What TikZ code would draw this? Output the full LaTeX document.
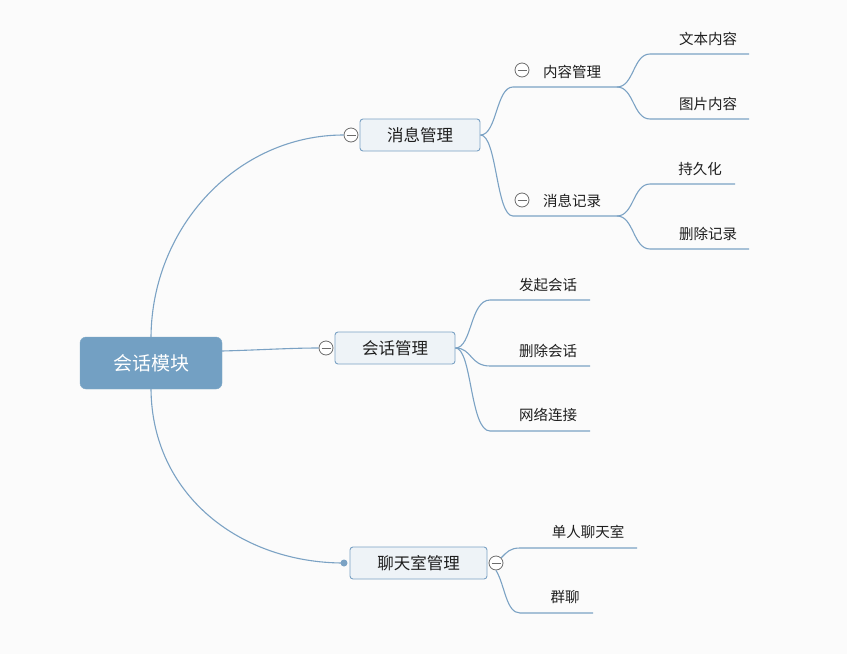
\documentclass[tikz,border=0pt]{standalone}
\usepackage{fontspec}
\setmainfont{Noto Sans CJK SC}
\definecolor{bg}{HTML}{FBFBFB}
\definecolor{linkc}{HTML}{7BA2C4}
\definecolor{rootc}{HTML}{73A0C3}
\definecolor{boxc}{HTML}{EEF3F7}
\definecolor{txt}{HTML}{1E1E1E}
\tikzset{
  link/.style={draw=linkc, line width=1.1pt},
  rootbox/.style={fill=rootc, draw=rootc!90!white, rounded corners=6pt, minimum width=142pt, minimum height=52pt, text=white, font=\fontsize{19}{22}\selectfont, inner sep=0pt},
  mainbox/.style={fill=boxc, draw=linkc, line width=0.9pt, rounded corners=3pt, minimum height=32pt, text=txt, font=\fontsize{16.5}{19}\selectfont, inner sep=0pt},
  leaf/.style={text=txt, font=\fontsize{14.5}{17}\selectfont, inner sep=0pt, yshift=-1pt},
  fold/.style={circle, draw=gray!85!black, fill=white, line width=0.8pt, minimum size=14pt, inner sep=0pt,
    path picture={\draw[gray!85!black, line width=0.8pt] ([xshift=-4.5pt]path picture bounding box.center) -- ([xshift=4.5pt]path picture bounding box.center);}},
  dot/.style={circle, fill=linkc, minimum size=7pt, inner sep=0pt},
}
\begin{document}
\begin{tikzpicture}[x=1pt,y=-1pt]
\fill[bg] (0,0) rectangle (847,654);
\useasboundingbox (0,0) rectangle (847,654);

% root
\node[rootbox] (root) at (151,363) {会话模块};

% main topics
\node[mainbox, minimum width=120pt] (m1) at (420,135) {消息管理};
\node[mainbox, minimum width=120pt] (m2) at (395,348) {会话管理};
\node[mainbox, minimum width=137pt] (m3) at (418.5,563) {聊天室管理};

\node[fold] (f1) at (351,135) {};
\node[fold] (f2) at (326,348) {};
\node[dot] (d3) at (344,563) {};
\node[fold] (f3) at (496,563) {};

% root links
\draw[link] (root.north) .. controls (152,226) and (238,135) .. (f1.west);
\draw[link] ([yshift=12pt]root.east) .. controls (260,350) and (290,348) .. (f2.west);
\draw[link] (root.south) .. controls (152,495) and (240,563) .. (d3.center);

% sub topics of 消息管理
\node[leaf] (s11) at (572,71) {内容管理};
\node[leaf] (s12) at (572,200) {消息记录};
\node[fold] (f11) at (522,70) {};
\node[fold] (f12) at (522,200) {};
\coordinate (u11a) at (513,87);
\coordinate (u11b) at (617,87);
\coordinate (u12a) at (513,216);
\coordinate (u12b) at (617,216);
\draw[link] (m1.east) .. controls (497,135) and (496,87) .. (u11a) -- (u11b);
\draw[link] (m1.east) .. controls (497,135) and (496,216) .. (u12a) -- (u12b);

% leaves
\node[leaf] (l1) at (708,38) {文本内容};
\node[leaf] (l2) at (708,103) {图片内容};
\node[leaf] (l3) at (700,168) {持久化};
\node[leaf] (l4) at (708,233) {删除记录};
\coordinate (v1a) at (650,54);  \coordinate (v1b) at (749,54);
\coordinate (v2a) at (650,119); \coordinate (v2b) at (749,119);
\coordinate (v3a) at (650,184); \coordinate (v3b) at (735,184);
\coordinate (v4a) at (650,249); \coordinate (v4b) at (749,249);
\draw[link] (u11b) .. controls (634,87) and (633,54) .. (v1a) -- (v1b);
\draw[link] (u11b) .. controls (634,87) and (633,119) .. (v2a) -- (v2b);
\draw[link] (u12b) .. controls (634,216) and (633,184) .. (v3a) -- (v3b);
\draw[link] (u12b) .. controls (634,216) and (633,249) .. (v4a) -- (v4b);

% sub topics of 会话管理
\node[leaf] (s21) at (548,284) {发起会话};
\node[leaf] (s22) at (548,350) {删除会话};
\node[leaf] (s23) at (548,414) {网络连接};
\coordinate (w1a) at (490,300); \coordinate (w1b) at (590,300);
\coordinate (w2a) at (490,366); \coordinate (w2b) at (590,366);
\coordinate (w3a) at (490,431); \coordinate (w3b) at (590,431);
\draw[link] (m2.east) .. controls (472,348) and (470,300) .. (w1a) -- (w1b);
\draw[link] (m2.east) .. controls (472,348) and (470,366) .. (w2a) -- (w2b);
\draw[link] (m2.east) .. controls (472,348) and (470,431) .. (w3a) -- (w3b);

% sub topics of 聊天室管理
\node[leaf] (s31) at (588,531) {单人聊天室};
\node[leaf] (s32) at (565,596) {群聊};
\coordinate (x1a) at (520,548); \coordinate (x1b) at (637,548);
\coordinate (x2a) at (520,613); \coordinate (x2b) at (593,613);
\draw[link] (f3.north east) .. controls (507,552) and (510,548) .. (x1a) -- (x1b);
\draw[link] (f3.south) .. controls (505,585) and (506,613) .. (x2a) -- (x2b);
\end{tikzpicture}
\end{document}
